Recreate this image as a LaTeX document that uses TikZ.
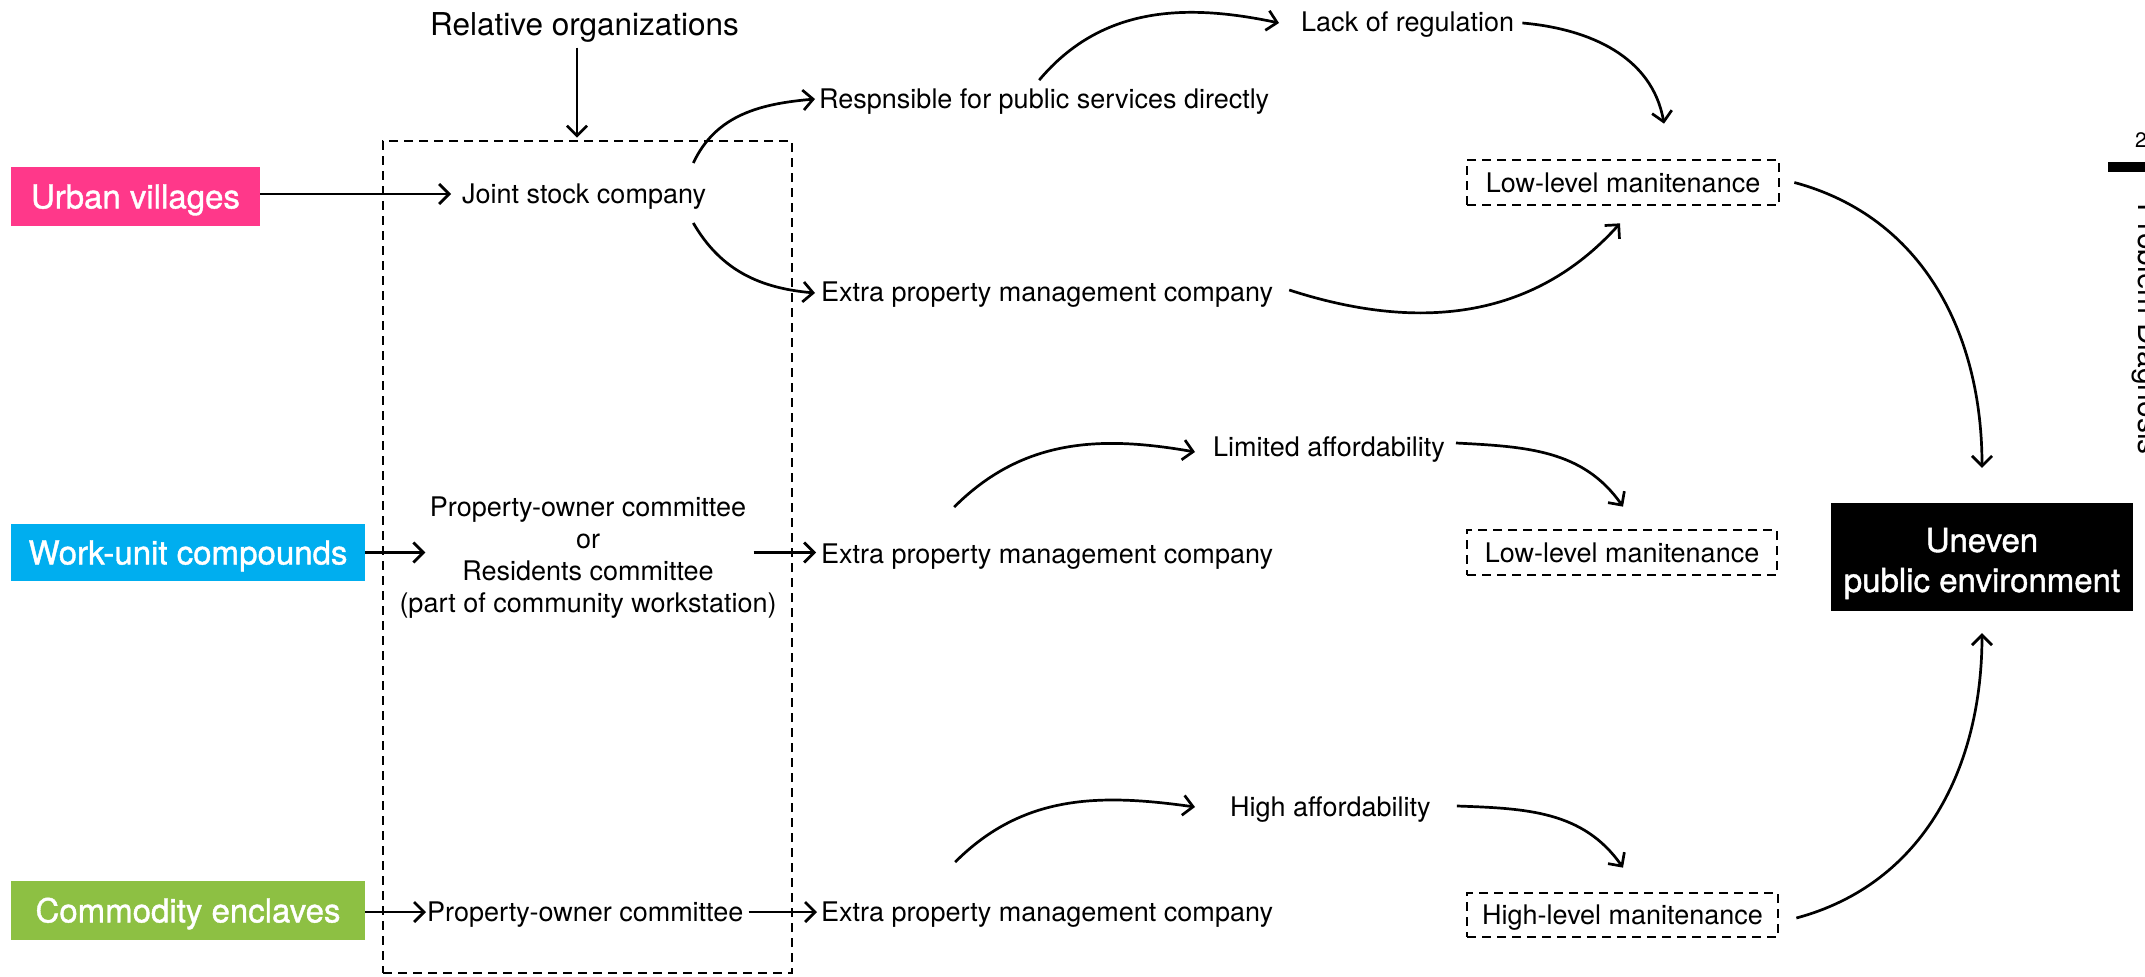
\documentclass[tikz,border=0pt]{standalone}
\usepackage{fontspec}
\setmainfont{TeX Gyre Heros}
\newfontfamily\labelfont[FakeBold=1.2]{TeX Gyre Heros}
\usetikzlibrary{arrows.meta,calc}
\definecolor{uvpink}{RGB}{255,56,138}
\definecolor{wublue}{RGB}{0,174,239}
\definecolor{cegreen}{RGB}{141,192,67}
\begin{document}
\begin{tikzpicture}[x=1pt,y=1pt,
  txt/.style={inner sep=0pt, font=\fontsize{27}{32}\selectfont, text height=19.4pt, text depth=0pt},
  txtw/.style={txt, anchor=west},
  arr/.style={line width=2.7pt, -{Straight Barb[length=10pt,width=20pt]}},
  dbox/.style={txt, draw, line width=2.7pt, dash pattern=on 9pt off 6pt},
  cbox/.style={inner sep=0pt, text=white, font=\labelfont\fontsize{33}{40}\selectfont, text height=23.7pt, text depth=0pt}
]
\useasboundingbox (0,0) rectangle (2145,-977);
\fill[white] (0,0) rectangle (2145,-977);

% left coloured boxes
\node[cbox, fill=uvpink, minimum width=249pt, minimum height=59pt] (uv) at (135.5,-196.5) {Urban villages};
\node[cbox, fill=wublue, minimum width=354pt, minimum height=57pt] (wu) at (188,-552.5) {Work-unit compounds};
\node[cbox, fill=cegreen, minimum width=354pt, minimum height=59pt] (ce) at (188,-910.5) {Commodity enclaves};

% group box and its header
\node[draw, line width=2.7pt, dash pattern=on 9pt off 6pt, inner sep=0pt, minimum width=409pt, minimum height=832pt] (group) at (587.5,-557) {};
\node[inner sep=0pt, font=\fontsize{31.5}{38}\selectfont, text height=22.6pt, text depth=0pt] (rel) at (584.5,-24) {Relative organizations};

% inner texts
\node[txtw] (jsc) at (462,-194) {Joint stock company};
\node[inner sep=0pt, align=center, font=\fontsize{27}{32}\selectfont] (pocrc) at (588,-558) {Property-owner committee\\or\\Residents committee\\(part of community workstation)};
\node[txtw] (poc3) at (427,-912) {Property-owner committee};

% second column
\node[txtw] (resp) at (819,-99) {Respnsible for public services directly};
\node[txtw] (extra1) at (821,-292) {Extra property management company};
\node[txtw] (extra2) at (821,-554) {Extra property management company};
\node[txtw] (extra3) at (821,-912) {Extra property management company};

% third column
\node[txtw] (lack) at (1301,-22) {Lack of regulation};
\node[txtw] (limited) at (1213,-447) {Limited affordability};
\node[txtw] (high) at (1230,-807) {High affordability};

\node[dbox, minimum width=312pt, minimum height=45pt] (low1) at (1623,-182.5) {Low-level manitenance};
\node[dbox, minimum width=310pt, minimum height=45pt] (low2) at (1622,-552.5) {Low-level manitenance};
\node[dbox, minimum width=311pt, minimum height=44pt] (hl) at (1622.5,-915) {High-level manitenance};

% result
\node[fill=black, inner sep=0pt, minimum width=302pt, minimum height=108pt] (uneven) at (1982,-557) {};
\node[inner sep=0pt, align=center, text=white, font=\labelfont\fontsize{33}{40}\selectfont] (unevenT) at (1982,-563.5) {Uneven\\public environment};

% page furniture cut by the edge
\node[inner sep=0pt, anchor=base west, font=\fontsize{21}{25}\selectfont] (pgnum) at (2135,-147) {2};
\fill[black] (2108,-162) rectangle (2160,-172);
\node[inner sep=0pt, anchor=base west, rotate=-90, font=\fontsize{30}{36}\selectfont] (pd) at (2138,-203) {Problem Diagnosis};

% connectors
\draw[arr] ($(rel.south)+(-7.5,-12)$) -- ($(group.north)+(-10.5,2)$);
\draw[arr] (uv.east |- jsc.west) -- ($(jsc.west)+(-11,0)$);
\draw[arr] ($(jsc.east)+(-13,31)$) to[out=65,in=185] ($(resp.west)+(-4,0)$);
\draw[arr] ($(jsc.east)+(-13,-29)$) to[out=-60,in=175] ($(extra1.west)+(-6,-1)$);
\draw[arr] ($(resp.north)+(-5,9)$) to[out=50,in=168] ($(lack.west)+(-22,-1)$);
\draw[arr] ($(lack.east)+(8,-1)$) to[out=-5,in=100] ($(low1.north)+(41,35)$);
\draw[arr] ($(extra1.east)+(16,2)$) to[out=-18,in=228] ($(low1.south)+(-3,-17)$);
\draw[arr] ($(low1.east)+(14,0)$) to[out=-15,in=90] ($(uneven.north)+(0,35)$);

\draw[arr] (wu.east) -- ($(wu.east -| pocrc.west)+(26,0)$);
\draw[arr] ($(wu.east -| pocrc.east)+(-23,0)$) -- ($(wu.east -| extra2.west)+(-5,0)$);
\draw[arr] ($(extra2.north)+(-93,37)$) to[out=45,in=170] ($(limited.west)+(-18,-5)$);
\draw[arr] ($(limited.east)+(11,4)$) to[out=-3,in=125] ($(low2.north)+(1,22)$);

\draw[arr] (ce.east |- poc3.west) -- ($(poc3.west)+(-1,0)$);
\draw[arr] ($(poc3.east)+(5,0)$) -- ($(extra3.west)+(-4,0)$);
\draw[arr] ($(extra3.north)+(-92,40)$) to[out=45,in=172] ($(high.west)+(-35,0)$);
\draw[arr] ($(high.east)+(26,1)$) to[out=-2,in=125] ($(hl.north)+(0.5,24)$);
\draw[arr] ($(hl.east)+(17,-3)$) to[out=15,in=-90] ($(uneven.south)+(0,-22)$);
\end{tikzpicture}
\end{document}
